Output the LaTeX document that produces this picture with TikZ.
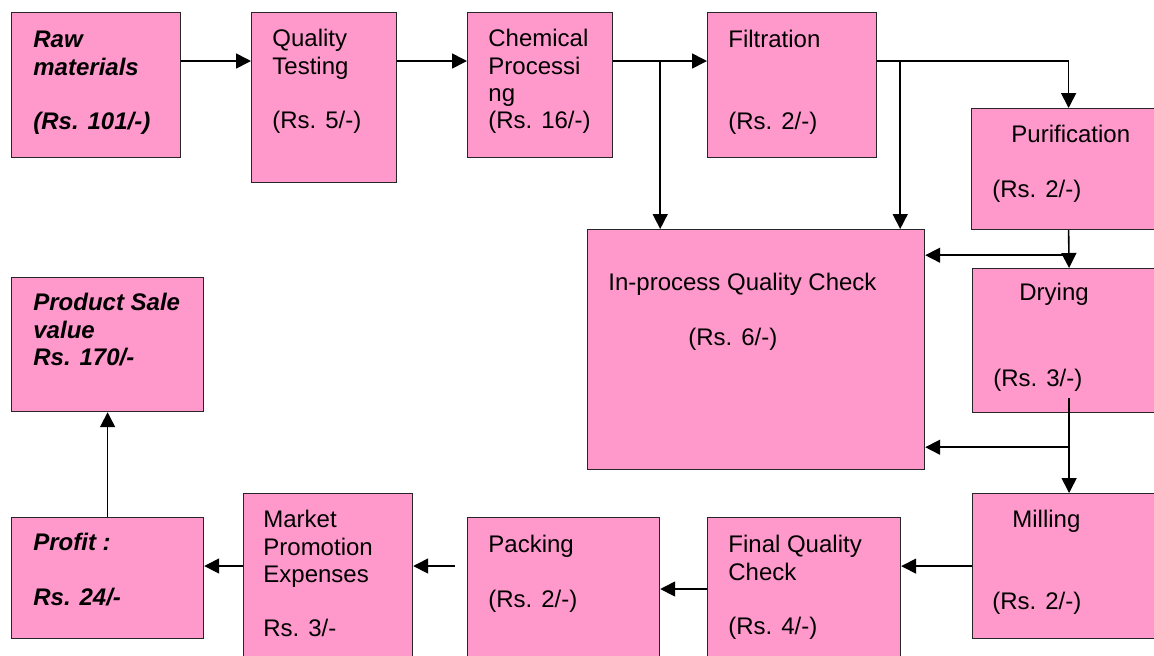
\documentclass[tikz,border=0pt]{standalone}
\usepackage{fontspec}
\setmainfont{Liberation Sans}
\usetikzlibrary{arrows.meta}
\definecolor{boxpink}{RGB}{255,153,204}
\tikzset{
    pink-box/.style = {draw=black!85, fill=boxpink, line width=0.6pt, rectangle, anchor=north west, inner sep=0pt},
    pink-box-text/.style = {anchor=north west, inner sep=0pt, align=left, font=\fontsize{12}{13.6}\selectfont},
    pink-box-bold/.style = {pink-box-text, font=\fontsize{12}{13.6}\selectfont\bfseries\itshape},
    flow-arrow/.style = {line width=0.8pt, -{Triangle[length=7.5pt,width=7.5pt]}},
}

\begin{document}
\begin{tikzpicture}[x=0.5pt, y=-0.5pt]
\useasboundingbox (0,0) rectangle (1154,655);

\node[pink-box, minimum width=84.5pt, minimum height=72.5pt] (raw) at (11,12) {};
\node[pink-box, minimum width=72.5pt, minimum height=85pt] (qtest) at (251,12) {};
\node[pink-box, minimum width=72.5pt, minimum height=72.5pt] (chem) at (467,12) {};
\node[pink-box, minimum width=84.5pt, minimum height=72.5pt] (filt) at (707,12) {};
\node[pink-box, minimum width=97pt, minimum height=60.5pt] (purif) at (971,108) {};
\node[pink-box, minimum width=168.5pt, minimum height=120pt] (ipqc) at (587,229) {};
\node[pink-box, minimum width=96.5pt, minimum height=72pt] (dry) at (972,268) {};
\node[pink-box, minimum width=96.5pt, minimum height=72.5pt] (mill) at (972,493) {};
\node[pink-box, minimum width=96.5pt, minimum height=74pt] (fqc) at (707,517) {};
\node[pink-box, minimum width=96pt, minimum height=74pt] (pack) at (467,517) {};
\node[pink-box, minimum width=84.5pt, minimum height=86pt] (market) at (243,493) {};
\node[pink-box, minimum width=96pt, minimum height=60.5pt] (profit) at (11,517) {};
\node[pink-box, minimum width=96pt, minimum height=67pt] (sale) at (11,277) {};

\node[pink-box-bold, xshift=11pt, yshift=-9.5pt] (raw-text) at (raw.north west) {Raw\\materials\\[13.6pt](Rs. 101/-)};
\node[pink-box-text, xshift=10.5pt, yshift=-8.5pt] (qtest-text) at (qtest.north west) {Quality\\Testing\\[13.6pt](Rs. 5/-)};
\node[pink-box-text, xshift=10.5pt, yshift=-8.5pt] (chem-text) at (chem.north west) {Chemical\\Processi\\ng\\(Rs. 16/-)};
\node[pink-box-text, xshift=10.5pt, yshift=-9pt] (filt-text) at (filt.north west) {Filtration\\[27.2pt](Rs. 2/-)};
\node[pink-box-text, xshift=10.5pt, yshift=-8.5pt] (purif-text) at (purif.north west) {\hspace*{9.5pt}Purification\\[13.6pt](Rs. 2/-)};
\node[pink-box-text, xshift=10.5pt, yshift=-22pt] (ipqc-text) at (ipqc.north west) {In-process Quality Check\\[13.6pt]\hspace*{40pt}(Rs. 6/-)};
\node[pink-box-text, xshift=10.5pt, yshift=-7.5pt] (dry-text) at (dry.north west) {\hspace*{13pt}Drying\\[29pt](Rs. 3/-)};
\node[pink-box-text, xshift=10pt, yshift=-8.5pt] (mill-text) at (mill.north west) {\hspace*{10pt}Milling\\[27.2pt](Rs. 2/-)};
\node[pink-box-text, xshift=10.5pt, yshift=-9pt] (fqc-text) at (fqc.north west) {Final Quality\\Check\\[13.6pt](Rs. 4/-)};
\node[pink-box-text, xshift=10.5pt, yshift=-9pt] (pack-text) at (pack.north west) {Packing\\[13.6pt](Rs. 2/-)};
\node[pink-box-text, xshift=10pt, yshift=-8.5pt] (market-text) at (market.north west) {Market\\Promotion\\Expenses\\[13.6pt]Rs. 3/-};
\node[pink-box-bold, xshift=11pt, yshift=-8pt] (profit-text) at (profit.north west) {Profit :\\[13.6pt]Rs. 24/-};
\node[pink-box-bold, xshift=11pt, yshift=-8pt] (sale-text) at (sale.north west) {Product Sale\\value\\Rs. 170/-};

\coordinate (raw-out) at ([yshift=-24.5pt]raw.north east);
\coordinate (qtest-out) at ([yshift=-24.5pt]qtest.north east);
\coordinate (chem-out) at ([yshift=-24.5pt]chem.north east);
\coordinate (chem-branch) at ([xshift=23.5pt,yshift=-24.5pt]chem.north east);
\coordinate (filt-out) at ([yshift=-24.5pt]filt.north east);
\coordinate (filt-branch) at ([xshift=11.5pt,yshift=-24.5pt]filt.north east);
\coordinate (purif-branch) at ([yshift=-12.5pt]purif.south);
\coordinate (dry-out) at ([yshift=7.5pt]dry.south);
\coordinate (dry-branch) at ([yshift=-17pt]dry.south);
\coordinate (fqc-out) at ([yshift=-36pt]fqc.north west);
\coordinate (pack-out) at ([xshift=-6pt,yshift=-24.5pt]pack.north west);
\coordinate (market-out) at ([yshift=-36.5pt]market.north west);

\draw[flow-arrow] (raw-out) -- (raw-out -| qtest.west);
\draw[flow-arrow] (qtest-out) -- (qtest-out -| chem.west);
\draw[flow-arrow] (chem-out) -- (chem-out -| filt.west);
\draw[flow-arrow] (chem-branch) -- (chem-branch |- ipqc.north);
\draw[flow-arrow] (filt-out) -| (purif.north);
\draw[flow-arrow] (filt-branch) -- (filt-branch |- ipqc.north);
\draw[flow-arrow] (purif.south) -- (dry.north);
\draw[flow-arrow] (purif-branch) -- (purif-branch -| ipqc.east);
\draw[flow-arrow] (dry-out) -- (dry-out |- mill.north);
\draw[flow-arrow] (dry-branch) -- (dry-branch -| ipqc.east);
\draw[flow-arrow] (mill.west) -- (mill.west -| fqc.east);
\draw[flow-arrow] (fqc-out) -- (fqc-out -| pack.east);
\draw[flow-arrow] (pack-out) -- (pack-out -| market.east);
\draw[flow-arrow] (market-out) -- (market-out -| profit.east);
\draw[flow-arrow] (profit.north) -- (sale.south);
\end{tikzpicture}
\end{document}
